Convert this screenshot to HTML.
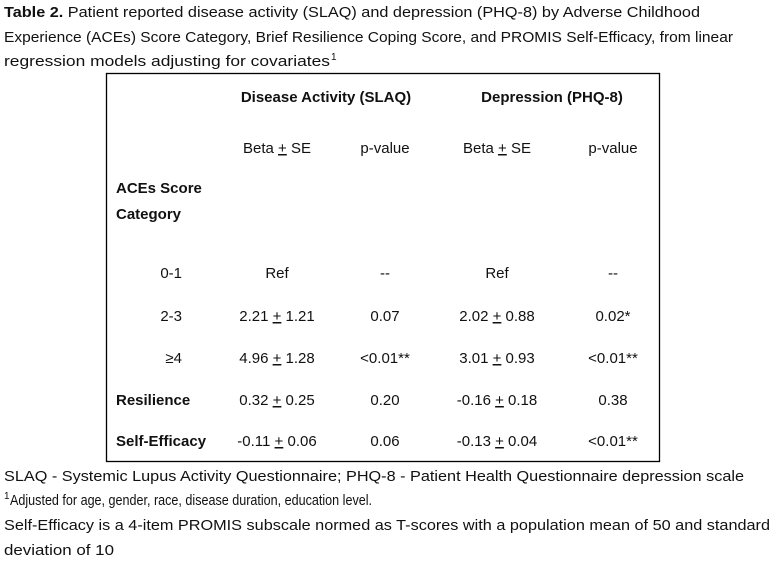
<!DOCTYPE html>
<html><head><meta charset="utf-8"><style>
html,body{margin:0;padding:0;background:#fff;}
svg{display:block;}
text{font-family:"Liberation Sans",sans-serif;font-size:15px;fill:#111;}
.b{font-weight:bold;}
.u{text-decoration:underline;}
</style></head><body>
<svg width="777" height="565" viewBox="0 0 777 565">
<g>
<text x="4" y="17" textLength="696" lengthAdjust="spacingAndGlyphs"><tspan class="b">Table 2.</tspan> Patient reported disease activity (SLAQ) and depression (PHQ-8) by Adverse Childhood</text>
<text x="4" y="42" textLength="729" lengthAdjust="spacingAndGlyphs">Experience (ACEs) Score Category, Brief Resilience Coping Score, and PROMIS Self-Efficacy, from linear</text>
<text x="4" y="66" textLength="326" lengthAdjust="spacingAndGlyphs">regression models adjusting for covariates</text>
<text x="331" y="60" style="font-size:10px">1</text>
</g>
<rect x="106.5" y="73.5" width="553" height="388" fill="none" stroke="#000" stroke-width="1.3"/>
<g>
<text class="b" x="326" y="102" text-anchor="middle">Disease Activity (SLAQ)</text>
<text class="b" x="552" y="102" text-anchor="middle">Depression (PHQ-8)</text>
<text x="277" y="153" text-anchor="middle">Beta <tspan class="u">+</tspan> SE</text>
<text x="385" y="153" text-anchor="middle">p-value</text>
<text x="497" y="153" text-anchor="middle">Beta <tspan class="u">+</tspan> SE</text>
<text x="613" y="153" text-anchor="middle">p-value</text>
</g>
<g>
<text class="b" x="116" y="193">ACEs Score</text>
<text class="b" x="116" y="219">Category</text>
<text x="182" y="278" text-anchor="end">0-1</text>
<text x="182" y="321" text-anchor="end">2-3</text>
<text x="182" y="363" text-anchor="end">≥4</text>
<text class="b" x="116" y="405">Resilience</text>
<text class="b" x="116" y="446">Self-Efficacy</text>
</g>
<g>
<text x="277" y="278" text-anchor="middle">Ref</text>
<text x="385" y="278" text-anchor="middle">--</text>
<text x="497" y="278" text-anchor="middle">Ref</text>
<text x="613" y="278" text-anchor="middle">--</text>

<text x="277" y="321" text-anchor="middle">2.21 <tspan class="u">+</tspan> 1.21</text>
<text x="385" y="321" text-anchor="middle">0.07</text>
<text x="497" y="321" text-anchor="middle">2.02 <tspan class="u">+</tspan> 0.88</text>
<text x="613" y="321" text-anchor="middle">0.02*</text>

<text x="277" y="363" text-anchor="middle">4.96 <tspan class="u">+</tspan> 1.28</text>
<text x="385" y="363" text-anchor="middle">&lt;0.01**</text>
<text x="497" y="363" text-anchor="middle">3.01 <tspan class="u">+</tspan> 0.93</text>
<text x="613" y="363" text-anchor="middle">&lt;0.01**</text>

<text x="277" y="405" text-anchor="middle">0.32 <tspan class="u">+</tspan> 0.25</text>
<text x="385" y="405" text-anchor="middle">0.20</text>
<text x="497" y="405" text-anchor="middle">-0.16 <tspan class="u">+</tspan> 0.18</text>
<text x="613" y="405" text-anchor="middle">0.38</text>

<text x="277" y="446" text-anchor="middle">-0.11 <tspan class="u">+</tspan> 0.06</text>
<text x="385" y="446" text-anchor="middle">0.06</text>
<text x="497" y="446" text-anchor="middle">-0.13 <tspan class="u">+</tspan> 0.04</text>
<text x="613" y="446" text-anchor="middle">&lt;0.01**</text>
</g>
<g>
<text x="4" y="481" textLength="740" lengthAdjust="spacingAndGlyphs">SLAQ - Systemic Lupus Activity Questionnaire; PHQ-8 - Patient Health Questionnaire depression scale</text>
<text x="4" y="499" style="font-size:10px">1</text>
<text x="10" y="505" textLength="362" lengthAdjust="spacingAndGlyphs">Adjusted for age, gender, race, disease duration, education level.</text>
<text x="4" y="530" textLength="766" lengthAdjust="spacingAndGlyphs">Self-Efficacy is a 4-item PROMIS subscale normed as T-scores with a population mean of 50 and standard</text>
<text x="4" y="555" textLength="110" lengthAdjust="spacingAndGlyphs">deviation of 10</text>
</g>
</svg>
</body></html>
